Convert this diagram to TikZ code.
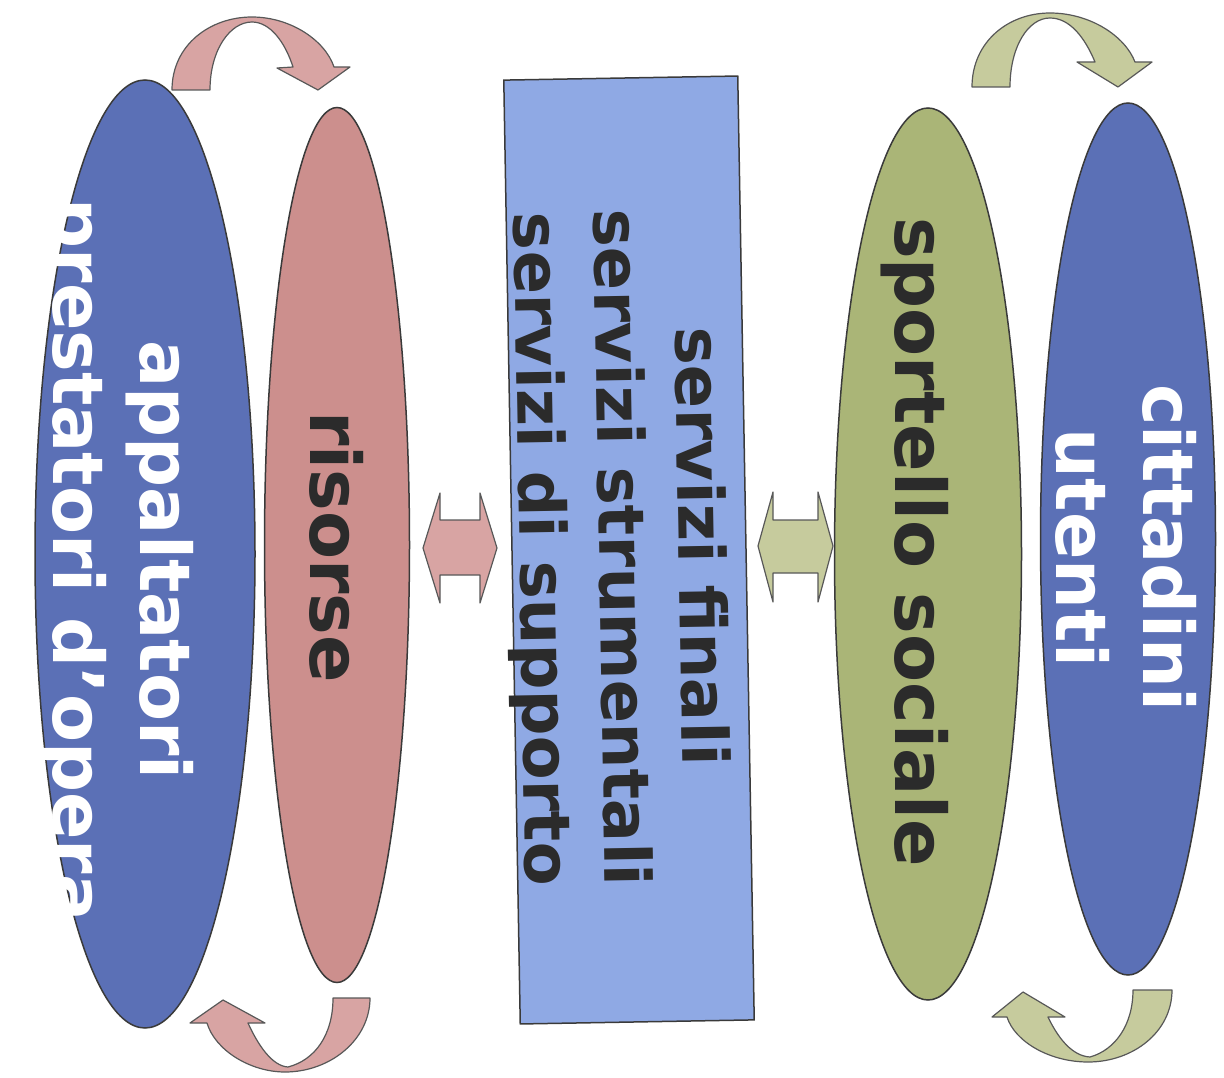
\documentclass[tikz,border=0pt]{standalone}
\usepackage{fontspec}
\setmainfont{DejaVu Sans}
\usetikzlibrary{shapes.geometric}
\definecolor{bluefill}{HTML}{5B70B6}
\definecolor{redfill}{HTML}{CC8F8D}
\definecolor{rectfill}{HTML}{8FA9E4}
\definecolor{greenfill}{HTML}{AAB577}
\definecolor{redarrow}{HTML}{D8A4A3}
\definecolor{greenarrow}{HTML}{C6CB9D}
\definecolor{outline}{HTML}{3A3A3A}
\definecolor{darktext}{HTML}{2B2B2B}
\begin{document}
\begin{tikzpicture}[x=1pt,y=-1pt,
  shapebox/.style={draw=outline, line width=1.5pt},
  oval/.style={shapebox, ellipse, inner sep=0pt},
  labelbig/.style={rotate=-90, align=center, inner sep=0pt, font=\bfseries\fontsize{70}{87}\selectfont},
  labelmid/.style={rotate=-89, align=center, inner sep=0pt, font=\bfseries\fontsize{64}{79.5}\selectfont},
  blockarrow/.style={draw=outline!85, line width=1.2pt, line join=round}]
\useasboundingbox (0,0) rectangle (1224,1078);

% shapes
\node[oval, fill=bluefill, minimum width=220pt, minimum height=948pt] (appalt) at (145,554) {};
\node[oval, fill=redfill, minimum width=145pt, minimum height=875pt] (risorse) at (337,545) {};
\node[shapebox, rectangle, fill=rectfill, minimum width=234pt, minimum height=944pt, inner sep=0pt, rotate=1] (servizi) at (629,550) {};
\node[oval, fill=greenfill, minimum width=187pt, minimum height=892pt] (sportello) at (928,554) {};
\node[oval, fill=bluefill, minimum width=175pt, minimum height=872pt] (cittadini) at (1128,539) {};

% texts
\node[labelbig, text=white] (tappalt) at (116,560) {appaltatori\\prestatori d’opera};
\node[labelbig, text=darktext] (trisorse) at (337,547) {risorse};
\node[labelmid, text=darktext] (tservizi) at (617,548) {servizi finali\\servizi strumentali\\servizi di supporto};
\node[labelbig, text=darktext] (tsportello) at (915,542) {sportello sociale};
\node[labelbig, text=white] (tcittadini) at (1126,548) {cittadini\\utenti};

% double arrows
\filldraw[blockarrow, fill=redarrow] (423,548) -- (440,493) -- (440,520) -- (480,520) -- (480,493) -- (497,548) -- (480,603) -- (480,575) -- (440,575) -- (440,603) -- cycle;
\filldraw[blockarrow, fill=greenarrow] (758,546) -- (773,492) -- (773,520) -- (818,520) -- (818,492) -- (833,546) -- (818,602) -- (818,573) -- (773,573) -- (773,602) -- cycle;

% curved arrows, top left (red)
\filldraw[blockarrow, fill=redarrow] (172,90) .. controls (172,45) and (210,17) .. (252,17) .. controls (290,17) and (325,40) .. (334,67) -- (350,67) -- (318,90) -- (277,68) -- (293,67) .. controls (285,42) and (270,22) .. (252,22) .. controls (230,22) and (210,50) .. (210,90) -- cycle;
% bottom left (red)
\filldraw[blockarrow, fill=redarrow] (370,998) .. controls (370,1040) and (330,1072) .. (285,1072) .. controls (250,1072) and (215,1050) .. (207,1023) -- (190,1023) -- (223,1000) -- (265,1023) -- (248,1023) .. controls (258,1045) and (272,1066) .. (288,1067) .. controls (315,1060) and (333,1035) .. (333,998) -- cycle;
% top right (green)
\filldraw[blockarrow, fill=greenarrow] (972,87) .. controls (972,42) and (1008,13) .. (1050,13) .. controls (1090,13) and (1125,36) .. (1135,62) -- (1152,62) -- (1118,87) -- (1077,62) -- (1095,62) .. controls (1085,38) and (1070,18) .. (1050,18) .. controls (1028,18) and (1010,47) .. (1010,87) -- cycle;
% bottom right (green)
\filldraw[blockarrow, fill=greenarrow] (1172,990) .. controls (1172,1032) and (1133,1062) .. (1088,1062) .. controls (1050,1062) and (1015,1042) .. (1007,1017) -- (992,1017) -- (1023,992) -- (1065,1017) -- (1048,1017) .. controls (1058,1038) and (1072,1056) .. (1090,1057) .. controls (1115,1050) and (1133,1025) .. (1133,990) -- cycle;
\end{tikzpicture}
\end{document}
